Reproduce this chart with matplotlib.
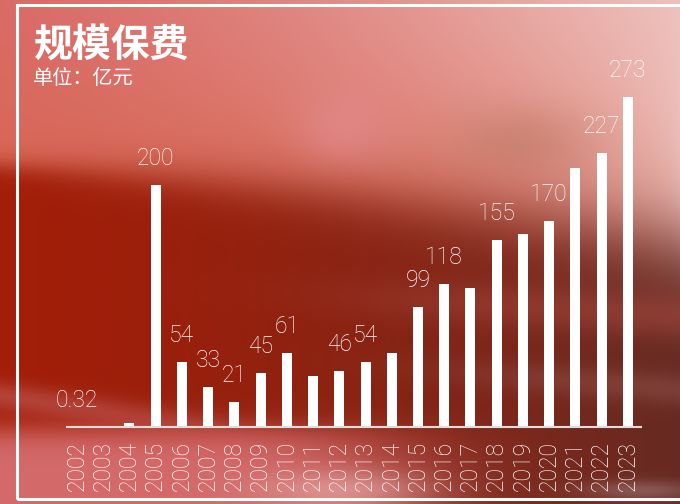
import numpy as np
import matplotlib
matplotlib.use('Agg')
import matplotlib.pyplot as plt
from matplotlib.patches import Rectangle


plt.rcParams['font.family'] = ['Noto Sans CJK SC', 'DejaVu Sans']
num_font = ['Roboto', 'Noto Sans CJK SC', 'DejaVu Sans']

# Data: 规模保费 (亿元)
years = [str(y) for y in range(2002, 2024)]
values = [0.32, 0.5, 3.3, 200, 54, 33, 21, 45, 61, 42, 46, 54, 61, 99, 118,
          115, 155, 160, 170, 214, 227, 273]
value_labels = ['0.32', '', '', '200', '54', '33', '21', '45', '61', '', '46',
                '54', '', '99', '118', '', '155', '', '170', '', '227', '273']

title = '规模保费'
subtitle = '单位：亿元'

W, H = 680, 504


def hex_rgb(h):
    return np.array([int(h[i:i + 2], 16) / 255 for i in (1, 3, 5)])


def sig(z):
    return 1 / (1 + np.exp(-z))


def mix(img, col, w):
    w = np.clip(w, 0, 1)[..., None]
    return img * (1 - w) + hex_rgb(col) * w


def blob(cx, cy, rx, ry):
    return np.exp(-(((xx - cx) / rx) ** 2 + ((yy - cy) / ry) ** 2))


# Blurry red photo-like backdrop.
yy, xx = np.mgrid[0:H, 0:W].astype(float)
u = xx / W
t = u[..., None] ** 1.4
top = hex_rgb('#da6c68') * (1 - t) + hex_rgb('#eec2bd') * t
top = mix(top, '#d6654f', 0.85 * (yy / 180) ** 1.2 * (1 - u) ** 0.5)
img = top
img = mix(img, '#e48a8c', 0.75 * blob(345, 128, 45, 40))
img = mix(img, '#c07c66', 0.55 * blob(520, 140, 70, 35))
dark = hex_rgb('#a21e08') * (1 - t) + hex_rgb('#662a22') * t
d = sig((yy - (165 + 40 * u + 35 * u ** 2)) / (6 + 20 * u))[..., None]
img = img * (1 - d) + dark * d
img = mix(img, '#a84a40', 0.5 * np.exp(-((yy - (275 + 0.06 * xx)) / 22) ** 2) * sig((xx - 380) / 60))
img = mix(img, '#9a5e58', 0.4 * np.exp(-((yy - (335 + 0.08 * xx)) / 16) ** 2) * sig((xx - 470) / 50))
img = mix(img, '#c05a58', 0.6 * np.exp(-((yy - (395 + 0.15 * xx)) / 14) ** 2) * (1 - sig((xx - 180) / 50)))
img = mix(img, '#d46a6a', sig((yy - 430) / 8) * (1 - sig((xx - 380) / 50)))
img = mix(img, '#e4a2a2', 0.75 * blob(340, 490, 90, 22))
img = mix(img, '#a88484', 0.5 * blob(640, 490, 60, 10))

fig = plt.figure(figsize=(6.8, 5.04), dpi=100)
bg = fig.add_axes([0, 0, 1, 1], zorder=0)
bg.imshow(img, aspect='auto', interpolation='bilinear')
bg.axis('off')

# Main bar chart.
ax = fig.add_axes([67 / W, 77 / H, 574 / W, 377 / H], zorder=1)
ax.set_facecolor('none')
x = np.arange(len(years))
bars = ax.bar(x, values, width=0.38, color='white')
for xi, v, lab in zip(x, values, value_labels):
    if lab:
        ax.annotate(lab, (xi, v), xytext=(0, 14.4), textcoords='offset points',
                    ha='center', va='baseline', color='white', fontsize=16.5,
                    family=num_font, fontweight='light')
ax.set_xlim(-0.38, 21.5)
ax.set_ylim(0, 311.8)
ax.set_xticks(x)
ax.set_xticklabels(years, rotation=90, fontsize=16.5, color='white',
                   family=num_font, fontweight='light')
ax.tick_params(axis='x', length=0, pad=10)
ax.set_yticks([])
for side in ('top', 'right', 'left'):
    ax.spines[side].set_visible(False)
ax.spines['bottom'].set_color('#e2dcdc')
ax.spines['bottom'].set_linewidth(1.5)

# White frame, open on the right.
fig.add_artist(Rectangle((17 / W, 5 / H), 1.1, 1 - 10 / H, transform=fig.transFigure,
                         fill=False, edgecolor='white', linewidth=2.2))

fig.text(33 / W, 1 - 45 / H, title, color='white', fontsize=28, fontweight='bold',
         ha='left', va='center')
fig.text(33 / W, 1 - 79 / H, subtitle, color='white', fontsize=14.5,
         ha='left', va='center')

fig.savefig('out.png', dpi=100)
